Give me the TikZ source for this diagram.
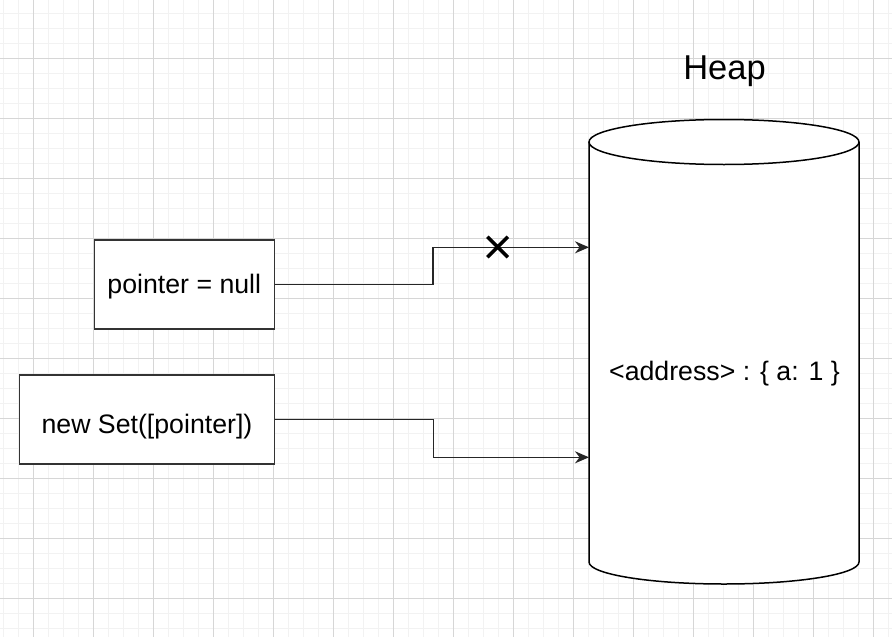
\documentclass[tikz,border=0pt]{standalone}
\usepackage{fontspec}
\setmainfont{Liberation Sans}
\usetikzlibrary{arrows.meta,shapes.misc}
\tikzset{
  box/.style={draw=black!80,line width=1.5pt,fill=white,inner sep=0pt,font=\fontsize{26.7}{32}\selectfont},
  link/.style={draw=black!85,line width=1.5pt,-{Stealth[length=14pt,width=12pt]}},
  cutmark/.style={cross out,draw=black,line width=3.5pt,minimum size=17pt,inner sep=0pt},
}
\begin{document}
\begin{tikzpicture}[x=1pt,y=-1pt]
\useasboundingbox (0,0) rectangle (892,637);
\pgfmathsetmacro{\cx}{724}
\pgfmathsetmacro{\rx}{135}
%\fill[white](0,0)rectangle(892,637);
\foreach \x in {3.3,18.3,...,892}\draw[black!5,line width=0.8pt](\x,0)--(\x,637);
\foreach \y in {13.3,28.3,...,637}\draw[black!5,line width=0.8pt](0,\y)--(892,\y);
\foreach \x in {33.3,93.3,...,892}\draw[black!16,line width=1pt](\x,0)--(\x,637);
\foreach \y in {58.3,118.3,...,637}\draw[black!16,line width=1pt](0,\y)--(892,\y);
% heap
\draw[line width=1.5pt,fill=white](\cx-\rx,142)--(\cx-\rx,562)arc[start angle=180,end angle=360,x radius=\rx pt,y radius=22pt]--(\cx+\rx,142);
\draw[line width=1.5pt,fill=white](\cx,142)ellipse[x radius=\rx pt,y radius=22.5pt];
\node[font=\fontsize{34.5}{41}\selectfont,anchor=base](heaptitle)at(\cx+0.5,79.3){Heap};
\node[font=\fontsize{26.7}{32}\selectfont,anchor=base](addr)at(\cx+0.5,380){<address> : \{ a: 1 \}};
\coordinate(in1)at(\cx-\rx,247.3);
\coordinate(in2)at(\cx-\rx,457.3);
% variables
\node[box,minimum width=180pt,minimum height=89pt,text height=20pt,text depth=2.8pt](ptr)at(184.3,284.7){pointer = null};
\node[box,minimum width=255pt,minimum height=89pt,text height=30pt,text depth=2.4pt](newset)at(147,419.7){new Set([pointer])};
\draw[link](ptr.east)--++(158,0)|-(in1);
\draw[link](newset.east)--++(158,0)|-(in2);
\node[cutmark](cut)at(497.7,247){};
\end{tikzpicture}
\end{document}
